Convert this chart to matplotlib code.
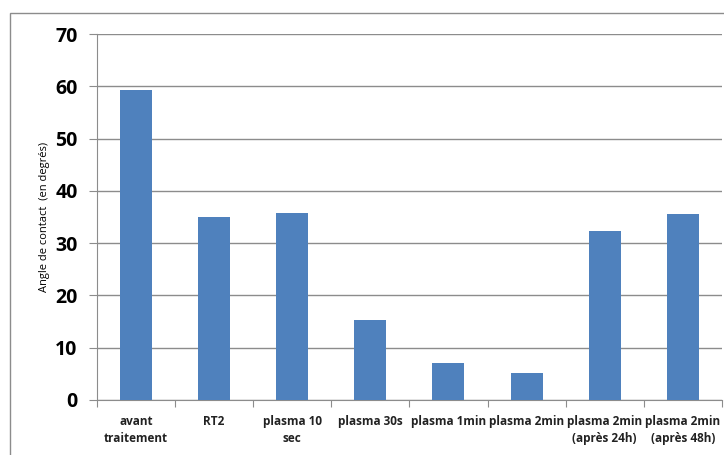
import matplotlib
matplotlib.use('Agg')
import matplotlib.pyplot as plt
from matplotlib.patches import Rectangle

categories = [
    "avant\ntraitement",
    "RT2",
    "plasma 10\nsec",
    "plasma 30s",
    "plasma 1min",
    "plasma 2min",
    "plasma 2min\n(après 24h)",
    "plasma 2min\n(après 48h)",
]
angles = [59.4, 35.0, 35.7, 15.3, 7.1, 5.1, 32.3, 35.5]
y_ticks = [0, 10, 20, 30, 40, 50, 60, 70]

plt.rcParams['font.family'] = ['Open Sans', 'DejaVu Sans']

fig = plt.figure(figsize=(7.24, 4.55), dpi=100)
ax = fig.add_axes([0.134, 0.121, 0.863, 0.804])

x = list(range(len(categories)))
ax.bar(x, angles, width=0.41, color="#4F81BD", zorder=3)

ax.set_xlim(-0.5, len(categories) - 0.5)
ax.set_ylim(0, 70)
ax.set_yticks(y_ticks)
ax.set_yticklabels([str(v) for v in y_ticks], fontsize=14, fontweight="bold")
ax.grid(axis="y", color="#8c8c8c", linewidth=1.0, zorder=0)

# ticks between categories, labels centred under bars
ax.set_xticks([i - 0.5 for i in x] + [len(categories) - 0.5])
ax.set_xticklabels([])
ax.set_xticks(x, minor=True)
ax.set_xticklabels(categories, minor=True, fontsize=8.5, fontweight="bold",
                   color="#222222", linespacing=1.4)
ax.tick_params(axis="x", which="minor", length=0, pad=11)
ax.tick_params(axis="x", which="major", length=5, color="#8c8c8c")
ax.tick_params(axis="y", length=6, color="#8c8c8c", pad=8)

for side in ["top", "right"]:
    ax.spines[side].set_visible(False)
for side in ["left", "bottom"]:
    ax.spines[side].set_color("#8c8c8c")

ax.set_ylabel("Angle de contact  (en degrés)", fontsize=8, labelpad=4)

fig.patches.append(Rectangle((10 / 724, -0.1), 1.2, 1 - 13 / 455 + 0.1,
                             transform=fig.transFigure, fill=False,
                             edgecolor="#8c8c8c", linewidth=1.0))

plt.savefig("out.png", dpi=100)
plt.close()
